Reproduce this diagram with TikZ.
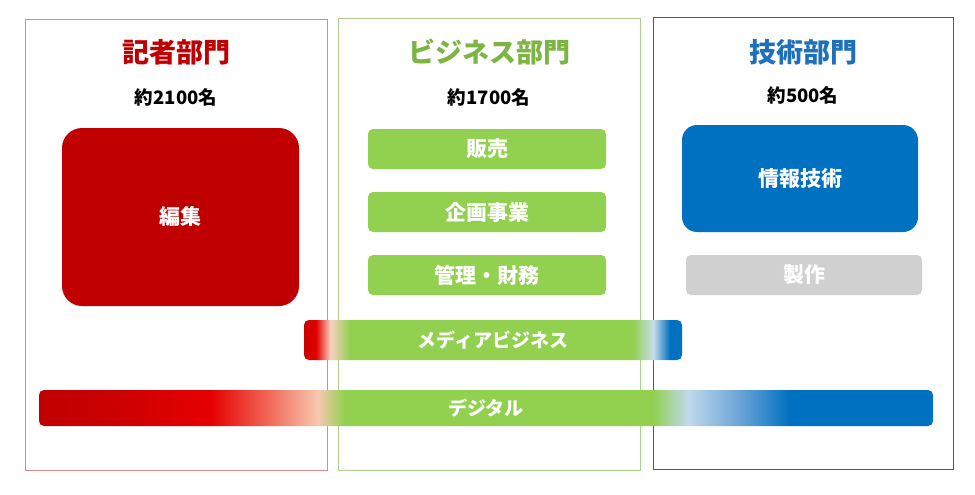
\documentclass[tikz,border=0pt]{standalone}
\usepackage{fontspec}
\newfontfamily\jp{Noto Sans CJK JP}
\definecolor{kred}{HTML}{C00000}
\definecolor{kgreen}{HTML}{92D050}
\definecolor{kblue}{HTML}{0070C0}
\definecolor{kgray}{HTML}{D0D0D0}
\definecolor{tgreen}{HTML}{7DB544}
\definecolor{tblue}{HTML}{1F70BA}
\definecolor{pnlred}{HTML}{E0868C}
\definecolor{pnlgreen}{HTML}{A9D18E}
% digital stops
\definecolor{d1}{HTML}{C00000}
\definecolor{d2}{HTML}{C80000}
\definecolor{d3}{HTML}{E60000}
\definecolor{d4}{HTML}{F06A5A}
\definecolor{d5}{HTML}{F8C8B0}
\definecolor{d6}{HTML}{92D050}
\definecolor{d7}{HTML}{C0D8EC}
\definecolor{d8}{HTML}{70A8D8}
\definecolor{d9}{HTML}{0070C0}
\definecolor{m1}{HTML}{CC0000}
\definecolor{m2}{HTML}{E00000}
\definecolor{m3}{HTML}{F8D0C0}
\definecolor{m4}{HTML}{C8DCEC}
% f -> 25+50f bp
\pgfdeclarehorizontalshading{digitalshade}{100bp}{color(0bp)=(d1); color(25bp)=(d1); color(28.4bp)=(d2); color(34.6bp)=(d3); color(37.9bp)=(d4); color(40.6bp)=(d5); color(42.1bp)=(d6); color(59.3bp)=(d6); color(61.3bp)=(d7); color(64bp)=(d8); color(67bp)=(d9); color(75bp)=(d9); color(100bp)=(d9)}
\pgfdeclarehorizontalshading{mediashade}{100bp}{color(0bp)=(m1); color(25bp)=(m1); color(26.6bp)=(m2); color(28.5bp)=(m3); color(31.1bp)=(d6); color(68.5bp)=(d6); color(71.2bp)=(m4); color(73.4bp)=(d9); color(75bp)=(d9); color(100bp)=(d9)}
\tikzset{
  panel/.style={draw=#1, line width=0.9pt, inner sep=0pt},
  title/.style={font=\jp\bfseries\fontsize{27}{32}\selectfont, text=#1},
  count/.style={font=\jp\bfseries\fontsize{18.5}{22}\selectfont, text=black},
  boxtext/.style={inner sep=0pt, text=white, font=\jp\bfseries\fontsize{21}{25}\selectfont},
  barbox/.style={inner sep=0pt, text=white, rounded corners=5pt, font=\jp\bfseries\fontsize{19}{23}\selectfont},
}
\begin{document}
\begin{tikzpicture}[x=1pt,y=-1pt]
\useasboundingbox[fill=white] (0,0) rectangle (975,495);
% panels
\node[panel=pnlred, minimum width=302pt, minimum height=451pt] (pred) at (176,244.5) {};
\node[panel=pnlgreen, minimum width=302pt, minimum height=452pt] (pgreen) at (489,244) {};
\node[panel=kblue, minimum width=300pt, minimum height=452pt] (pblue) at (803,243) {};
% titles
\node[title=kred] (t1) at (176,52) {記者部門};
\node[title=tgreen] (t2) at (489,52) {ビジネス部門};
\node[title=tblue] (t3) at (803,52) {技術部門};
\node[count] (c1) at (176,97) {約2100名};
\node[count] (c2) at (489,97) {約1700名};
\node[count] (c3) at (803,95) {約500名};
% boxes
\node[boxtext, fill=kred, rounded corners=20pt, minimum width=237pt, minimum height=178pt] (hen) at (180.5,217) {編集};
\node[boxtext, fill=kgreen, rounded corners=5pt, minimum width=238pt, minimum height=40pt] (han) at (487,149) {販売};
\node[boxtext, fill=kgreen, rounded corners=5pt, minimum width=238pt, minimum height=40pt] (kik) at (487,212) {企画事業};
\node[boxtext, fill=kgreen, rounded corners=5pt, minimum width=238pt, minimum height=40pt] (kan) at (487,275) {管理・財務};
\node[boxtext, fill=kblue, rounded corners=15pt, minimum width=236pt, minimum height=107pt] (jou) at (800,178.5) {情報技術};
\node[boxtext, fill=kgray, rounded corners=5pt, minimum width=236pt, minimum height=40pt] (sei) at (804,275) {製作};
% bars
\node[barbox, shading=mediashade, minimum width=378pt, minimum height=40pt] (media) at (493,340) {メディアビジネス};
\node[barbox, shading=digitalshade, minimum width=894pt, minimum height=36pt] (digi) at (486,408) {デジタル};
\end{tikzpicture}
\end{document}
